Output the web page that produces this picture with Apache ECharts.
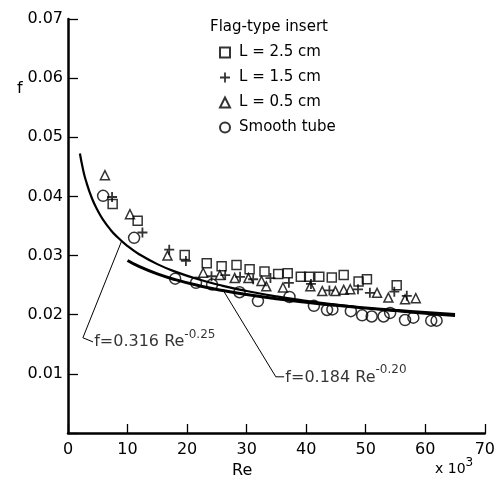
<!DOCTYPE html>
<html>
<head>
<meta charset="utf-8">
<script src="https://cdn.jsdelivr.net/npm/echarts@6/dist/echarts.min.js"></script>
<style>
  html, body { margin: 0; padding: 0; background: #fff; }
  #chart { width: 498px; height: 480px; }
</style>
</head>
<body>
<div id="chart"></div>
<script>
// Reynolds number is given in thousands (axis reads "x 10^3"), f is the friction factor.

// Flag-type insert, L = 2.5 cm
const reL25 = [7.5, 11.7, 19.6, 23.3, 25.8, 28.3, 30.5, 33.0, 35.3, 36.9, 39.1, 40.5, 42.2, 44.3, 46.3, 48.8, 50.2, 55.2];
const fL25  = [0.0387, 0.0359, 0.0301, 0.0287, 0.0282, 0.0284, 0.0277, 0.0273, 0.0269, 0.0270, 0.0264, 0.0264, 0.0264, 0.0263, 0.0267, 0.0256, 0.0260, 0.0250];

// Flag-type insert, L = 1.5 cm
const reL15 = [7.4, 12.5, 17.0, 19.8, 24.1, 26.4, 28.9, 31.1, 34.0, 37.1, 40.8, 43.9, 48.7, 50.7, 54.8, 56.9];
const fL15  = [0.0399, 0.0339, 0.0310, 0.0291, 0.0265, 0.0267, 0.0264, 0.0260, 0.0262, 0.0254, 0.0252, 0.0241, 0.0243, 0.0237, 0.0239, 0.0232];

// Flag-type insert, L = 0.5 cm
const reL05 = [6.2, 10.4, 16.7, 22.7, 25.5, 28.0, 30.3, 32.5, 33.3, 36.1, 40.7, 42.7, 44.9, 46.3, 47.4, 51.9, 53.8, 56.6, 58.4];
const fL05  = [0.0436, 0.0370, 0.0300, 0.0271, 0.0267, 0.0262, 0.0262, 0.0257, 0.0248, 0.0246, 0.0248, 0.0240, 0.0240, 0.0242, 0.0243, 0.0237, 0.0229, 0.0226, 0.0228];

// Smooth tube
const reSmooth = [5.9, 11.1, 18.0, 21.5, 24.2, 28.8, 31.9, 37.2, 41.3, 43.5, 44.4, 47.5, 49.4, 51.0, 53.0, 54.1, 56.6, 58.0, 61.0, 61.9];
const fSmooth  = [0.0401, 0.0330, 0.0261, 0.0254, 0.0251, 0.0238, 0.0223, 0.0230, 0.0215, 0.0208, 0.0209, 0.0206, 0.0199, 0.0197, 0.0197, 0.0203, 0.0191, 0.0195, 0.0190, 0.0190];

// Correlations written on the chart: f = a * Re^b
const blasiusCoef = 0.316, blasiusExp = -0.25;
const fitCoef = 0.184, fitExp = -0.20;
const reBlasius = [2, 2.5, 3, 4, 5, 6, 7, 8, 10, 12, 15, 18, 22, 26, 30, 35, 40, 45, 50, 55, 60, 65];
const reFit = [10, 12, 15, 18, 22, 26, 30, 35, 40, 45, 50, 55, 60, 65];

// Tick labels
const xTicks = [0, 10, 20, 30, 40, 50, 60, 70];
const yTicks = ['0.01', '0.02', '0.03', '0.04', '0.05', '0.06', '0.07'];

const FONT = 'DejaVu Sans';
const zip = (xs, ys) => xs.map((x, i) => [x, ys[i]]);
const corr = (a, b, xs) => xs.map(x => [x, a * Math.pow(x * 1000, b)]);

const hollow = { color: 'rgba(0,0,0,0)', borderColor: '#000', borderWidth: 1.5 };
const plusPath = 'path://M4.1,0H5.9V4.1H10V5.9H5.9V10H4.1V5.9H0V4.1H4.1Z';

// Leader lines for the two correlation labels (data coordinates)
const leader1 = [[9, blasiusCoef * Math.pow(9000, blasiusExp)], [2.5, 0.0161], [4.2, 0.0154]];
const leader2 = [[26.1, fitCoef * Math.pow(26100, fitExp)], [34.9, 0.0095], [36.3, 0.0095]];

const chart = echarts.init(document.getElementById('chart'), null, { renderer: 'canvas' });

const labelRich = {
  a: { fontFamily: FONT, fontSize: 16, color: '#000' },
  s: { fontFamily: FONT, fontSize: 12, color: '#000', padding: [0, 0, 15, 0] }
};

chart.setOption({
  animation: false,
  backgroundColor: '#fff',
  grid: { left: 68, right: 9, top: 19, bottom: 47, containLabel: false },
  xAxis: {
    type: 'value', min: 0, max: 70, interval: 10,
    axisLine: { onZero: false, lineStyle: { color: '#000', width: 2.5 } },
    axisTick: { inside: true, length: 9, lineStyle: { color: '#000', width: 1.3 } },
    splitLine: { show: false },
    axisLabel: {
      color: '#000', fontFamily: FONT, fontSize: 16, margin: 9,
      formatter: v => xTicks.includes(v) ? String(v) : ''
    }
  },
  yAxis: {
    type: 'value', min: 0, max: 0.07, interval: 0.01,
    axisLine: { onZero: false, lineStyle: { color: '#000', width: 2.5 } },
    axisTick: { inside: true, length: 10, lineStyle: { color: '#000', width: 1.3 } },
    splitLine: { show: false },
    axisLabel: {
      color: '#000', fontFamily: FONT, fontSize: 16, margin: 5,
      formatter: v => {
        const s = v.toFixed(2);
        return yTicks.includes(s) ? s : '';
      }
    }
  },
  legend: {
    data: ['L = 2.5 cm', 'L = 1.5 cm', 'L = 0.5 cm', 'Smooth tube'],
    orient: 'vertical', left: 214, top: 40,
    itemWidth: 10, itemHeight: 10, itemGap: 10,
    textStyle: { fontFamily: FONT, fontSize: 15, color: '#000', padding: [0, 0, 0, 4] },
    selectedMode: false
  },
  graphic: [
    { type: 'text', left: 210, top: 20, style: { text: 'Flag-type insert', font: '15px "' + FONT + '"', fill: '#000' } },
    { type: 'text', left: 17, top: 81, style: { text: 'f', font: '16px "' + FONT + '"', fill: '#000' } },
    { type: 'text', left: 232, top: 463, style: { text: 'Re', font: '16px "' + FONT + '"', fill: '#000' } },
    { type: 'text', left: 435, top: 457, style: {
        text: '{a|x 10}{s|3}',
        rich: { a: { fontFamily: FONT, fontSize: 14, color: '#000' }, s: { fontFamily: FONT, fontSize: 12, color: '#000', padding: [0, 0, 13, 0] } }
    } }
  ],
  series: [
    {
      name: 'Blasius', type: 'line', data: corr(blasiusCoef, blasiusExp, reBlasius),
      smooth: true, showSymbol: false, symbol: 'none',
      lineStyle: { color: '#000', width: 2.2 }, z: 2
    },
    {
      name: 'Fit', type: 'line', data: corr(fitCoef, fitExp, reFit),
      smooth: true, showSymbol: false, symbol: 'none',
      lineStyle: { color: '#000', width: 3 }, z: 2
    },
    {
      name: 'leader1', type: 'line', data: leader1, symbol: 'none',
      lineStyle: { color: '#000', width: 1 }, z: 1
    },
    {
      name: 'leader2', type: 'line', data: leader2, symbol: 'none',
      lineStyle: { color: '#000', width: 1 }, z: 1
    },
    {
      name: 'label1', type: 'scatter', symbolSize: 0, silent: true,
      data: [[4.4, 0.0154]],
      label: { show: true, position: 'right', distance: 0, formatter: '{a|f=0.316 Re}{s|-0.25}', rich: labelRich }
    },
    {
      name: 'label2', type: 'scatter', symbolSize: 0, silent: true,
      data: [[36.5, 0.0094]],
      label: { show: true, position: 'right', distance: 0, formatter: '{a|f=0.184 Re}{s|-0.20}', rich: labelRich }
    },
    {
      name: 'L = 2.5 cm', type: 'scatter', symbol: 'rect', symbolSize: 9,
      data: zip(reL25, fL25), itemStyle: hollow, z: 3
    },
    {
      name: 'L = 1.5 cm', type: 'scatter', symbol: plusPath, symbolSize: 10,
      data: zip(reL15, fL15), itemStyle: { color: '#000' }, z: 3
    },
    {
      name: 'L = 0.5 cm', type: 'scatter', symbol: 'triangle', symbolSize: 9,
      data: zip(reL05, fL05), itemStyle: hollow, z: 3
    },
    {
      name: 'Smooth tube', type: 'scatter', symbol: 'circle', symbolSize: 11,
      data: zip(reSmooth, fSmooth), itemStyle: hollow, z: 3
    }
  ]
});
</script>
</body>
</html>
